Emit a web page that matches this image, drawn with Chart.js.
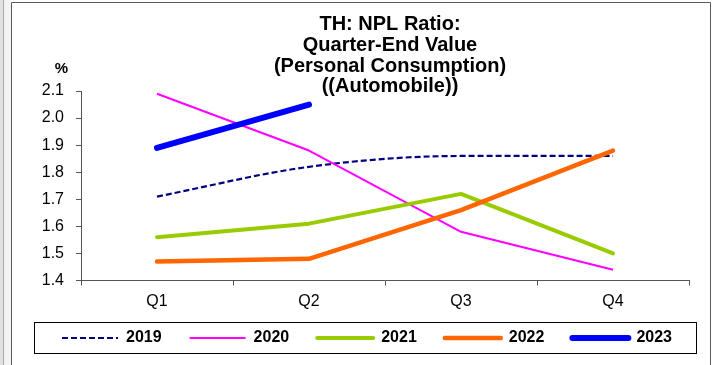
<!DOCTYPE html>
<html>
<head>
<meta charset="utf-8">
<title>TH: NPL Ratio</title>
<script src="https://cdn.jsdelivr.net/npm/chart.js@4.4.0/dist/chart.umd.min.js"></script>
<style>
html, body { margin: 0; padding: 0; background: #fff; }
#wrap { position: relative; width: 712px; height: 365px; }
</style>
</head>
<body>
<div id="wrap"><canvas id="npl-chart" width="712" height="365"></canvas></div>
<script>
// Datos
const quarters = ['Q1', 'Q2', 'Q3', 'Q4'];
const years = ['2019', '2020', '2021', '2022', '2023'];
const npl2019 = [1.71, 1.82, 1.86, 1.86];
const npl2020 = [2.09, 1.88, 1.58, 1.44];
const npl2021 = [1.56, 1.61, 1.72, 1.50];
const npl2022 = [1.47, 1.48, 1.66, 1.88];
const npl2023 = [1.89, 2.05, null, null];
const yTicks = [1.4, 1.5, 1.6, 1.7, 1.8, 1.9, 2.0, 2.1];
const titleLines = ['TH: NPL Ratio:', 'Quarter-End Value', '(Personal Consumption)', '((Automobile))'];
const yUnit = '%';

const FONT = '"Liberation Sans", Arial, Helvetica, sans-serif';
const axisColor = '#555';

Chart.defaults.font.family = FONT;
Chart.defaults.font.size = 16;
Chart.defaults.color = '#000';

// Estilo de cada serie
const estilos = [
    { color: '#000080', width: 2.2, dash: [6, 3], cap: 'butt', smooth: true },
    { color: '#FF00FF', width: 2, dash: [], cap: 'butt' },
    { color: '#99CC00', width: 4, dash: [], cap: 'round' },
    { color: '#FF6600', width: 4.5, dash: [], cap: 'round' },
    { color: '#0000FF', width: 6, dash: [], cap: 'round' }
];
const series = [npl2019, npl2020, npl2021, npl2022, npl2023];

const datasets = years.map((year, i) => {
    const e = estilos[i];
    return {
        label: year,
        data: series[i],
        borderColor: e.color,
        backgroundColor: e.color,
        borderWidth: e.width,
        borderDash: e.dash,
        borderCapStyle: e.cap,
        borderJoinStyle: 'round',
        cubicInterpolationMode: e.smooth ? 'monotone' : 'default',
        tension: e.smooth ? 0.4 : 0,
        pointRadius: 0,
        pointHoverRadius: 0,
        spanGaps: false,
        order: years.length - i   // las series posteriores quedan encima
    };
});

// Subir la leyenda unos píxeles (queda más cerca del eje)
const LEGEND_SHIFT = 7.5;

// Marco, título, unidad y caja de la leyenda
const decoracion = {
    id: 'decoracion',
    afterLayout(chart) {
        const lg = chart.legend;
        if (lg) {
            lg.top -= LEGEND_SHIFT;
            lg.bottom -= LEGEND_SHIFT;
        }
    },
    beforeDraw(chart) {
        const ctx = chart.ctx;
        ctx.save();
        ctx.fillStyle = '#fff';
        ctx.fillRect(0, 0, chart.width, chart.height);
        ctx.fillStyle = '#e2e2e2';
        ctx.fillRect(0, 0, 3, chart.height);
        ctx.fillStyle = '#f3f3f3';
        ctx.fillRect(4, 0, 7, chart.height);
        ctx.strokeStyle = '#a8a8a8';
        ctx.lineWidth = 1;
        ctx.beginPath();
        ctx.moveTo(3.5, 0);
        ctx.lineTo(3.5, chart.height);
        ctx.stroke();
        ctx.strokeStyle = '#5a5a5a';
        ctx.beginPath();
        ctx.moveTo(11.5, chart.height + 2);
        ctx.lineTo(11.5, 2.5);
        ctx.lineTo(710.5, 2.5);
        ctx.lineTo(710.5, chart.height + 2);
        ctx.stroke();
        ctx.restore();
    },
    afterDraw(chart) {
        const ctx = chart.ctx;
        const area = chart.chartArea;
        ctx.save();
        ctx.fillStyle = '#000';
        ctx.textAlign = 'center';
        ctx.textBaseline = 'alphabetic';
        ctx.font = 'bold 20px ' + FONT;
        const cx = (area.left + area.right) / 2 + 5;
        titleLines.forEach((line, i) => {
            ctx.fillText(line, cx, 30 + i * 20.8);
        });

        ctx.font = 'bold 15px ' + FONT;
        ctx.textAlign = 'right';
        ctx.textBaseline = 'middle';
        ctx.fillText(yUnit, area.left - 13, area.top - 22);

        const lg = chart.legend;
        if (lg && lg.legendHitBoxes.length) {
            const hb = lg.legendHitBoxes[0];
            const cy = hb.top + hb.height / 2;
            ctx.strokeStyle = '#000';
            ctx.lineWidth = 1;
            ctx.strokeRect(Math.round(lg.left) + 0.5, Math.round(cy - 16) + 0.5,
                Math.round(area.right + 7 - lg.left), 31);
        }
        ctx.restore();
    }
};

const chartNpl = new Chart(document.getElementById('npl-chart').getContext('2d'), {
    type: 'line',
    data: {
        labels: quarters,
        datasets: datasets
    },
    plugins: [decoracion],
    options: {
        responsive: false,
        animation: false,
        layout: {
            padding: { top: 91, left: 34, right: 8, bottom: 1.5 }
        },
        plugins: {
            title: { display: false },
            tooltip: { enabled: false },
            legend: {
                position: 'bottom',
                align: 'start',
                labels: {
                    usePointStyle: true,
                    pointStyleWidth: 56,
                    padding: 28,
                    color: '#000',
                    font: { size: 16, weight: 'bold' },
                    generateLabels: chart => chart.data.datasets.map((ds, i) => ({
                        text: ds.label,
                        fillStyle: ds.borderColor,
                        strokeStyle: ds.borderColor,
                        fontColor: '#000',
                        lineWidth: ds.borderWidth,
                        lineDash: ds.borderDash,
                        lineCap: ds.borderCapStyle,
                        pointStyle: 'line',
                        hidden: false,
                        datasetIndex: i
                    }))
                }
            }
        },
        scales: {
            x: {
                type: 'category',
                offset: true,
                grid: {
                    display: true,
                    offset: true,
                    drawOnChartArea: false,
                    drawTicks: true,
                    tickLength: 5,
                    color: axisColor
                },
                border: { display: true, color: axisColor, width: 1 },
                ticks: { padding: 6, maxRotation: 0, color: '#000', font: { size: 16 } },
                afterFit: s => { s.height = 29; }
            },
            y: {
                type: 'linear',
                min: 1.4,
                max: 2.1,
                afterBuildTicks: s => { s.ticks = yTicks.map(v => ({ value: v })); },
                grid: {
                    display: true,
                    drawOnChartArea: false,
                    drawTicks: true,
                    tickLength: 5,
                    color: axisColor
                },
                border: { display: true, color: axisColor, width: 1 },
                ticks: {
                    padding: 12,
                    color: '#000',
                    font: { size: 16 },
                    callback: v => Number(v).toFixed(1)
                },
                afterFit: s => { s.width = 47; }
            },
            relleno: {
                type: 'linear',
                position: 'right',
                display: true,
                grid: { display: false },
                border: { display: false },
                ticks: { display: false },
                afterFit: s => { s.width = 15; }
            }
        }
    }
});
</script>
</body>
</html>
